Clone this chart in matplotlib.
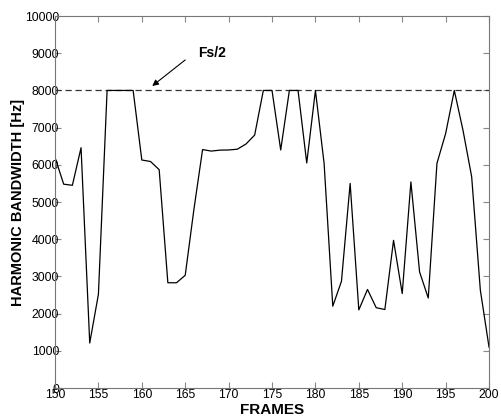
import numpy as np
import matplotlib.pyplot as plt

plt.rcParams['font.family'] = ['Liberation Sans', 'DejaVu Sans']

frames = np.arange(150, 201)
bandwidth = [6200, 5480, 5450, 6460, 1210, 2520, 8000, 8000, 8000, 8000,
             6130, 6090, 5870, 2830, 2830, 3030, 4800, 6410, 6370, 6395,
             6400, 6420, 6560, 6800, 8000, 8000, 6400, 8000, 8000, 6050,
             8000, 6040, 2200, 2870, 5500, 2100, 2650, 2160, 2110, 3970,
             2540, 5540, 3120, 2420, 6040, 6840, 8000, 6930, 5680, 2630,
             1100]
fs_half = 8000

fig = plt.figure(figsize=(5.01, 4.17), dpi=100)
ax = fig.add_axes([0.1098, 0.0695, 0.8663, 0.892])

ax.axhline(fs_half, color="#333333", linewidth=0.9, linestyle=(0, (5, 3)))
ax.plot(frames, bandwidth, color="black", linewidth=0.9)

# Fs/2 marker: text plus arrow pointing at the dashed line
ax.text(166.5, 9000, "Fs/2", fontsize=10, fontweight="bold",
        ha="left", va="center")
ax.annotate("", xy=(161.2, 8120), xytext=(165.0, 8820),
            arrowprops=dict(arrowstyle="-|>", color="black", lw=0.8,
                            shrinkA=0, shrinkB=0, mutation_scale=9))

ax.set_xlim(150, 200)
ax.set_ylim(0, 10000)
ax.set_xticks(np.arange(150, 201, 5))
ax.set_yticks(np.arange(0, 10001, 1000))
ax.tick_params(direction="in", top=True, right=True, length=4,
               color="#888888", labelsize=8.8)
ax.tick_params(axis="y", pad=-3)
ax.tick_params(axis="x", pad=1)
for s in ax.spines.values():
    s.set_color("#777777")
    s.set_linewidth(0.8)

ax.set_xlabel("FRAMES", fontsize=11, fontweight="bold", labelpad=1)
ax.set_ylabel("HARMONIC BANDWIDTH [Hz]", fontsize=10.5, fontweight="bold", labelpad=0)

fig.savefig("out.png", dpi=100)
